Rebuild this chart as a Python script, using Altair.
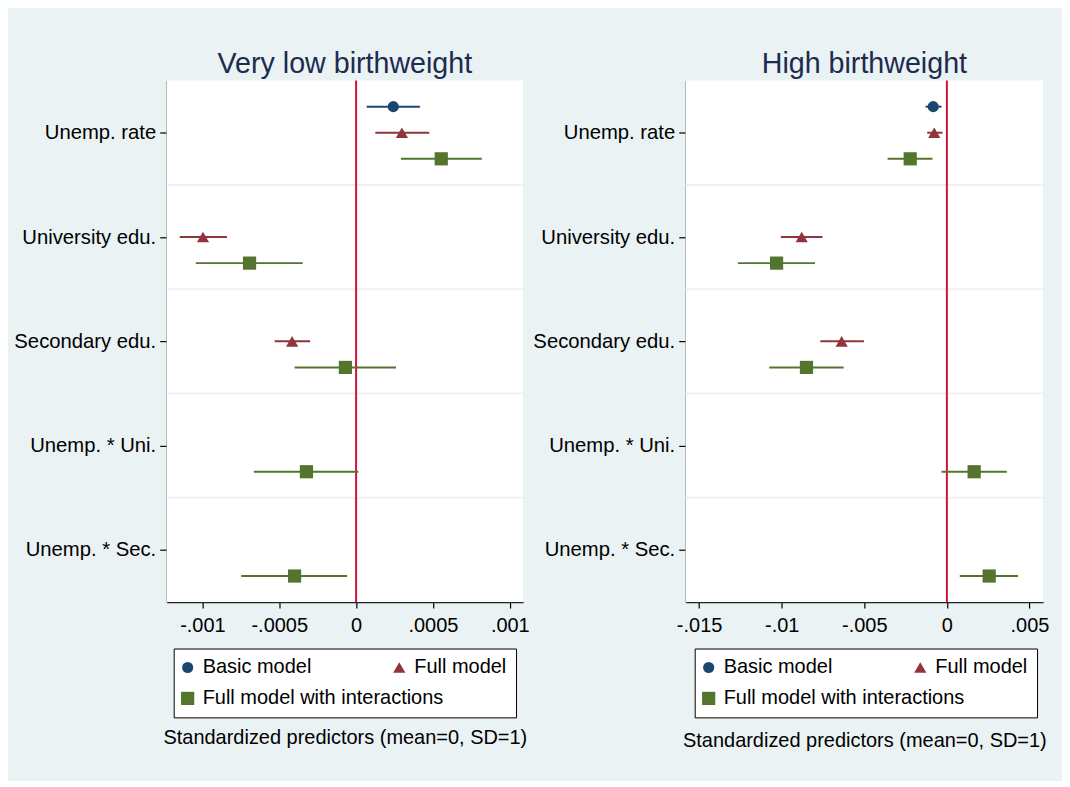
import altair as alt
import pandas as pd

FONT = "Liberation Sans"
BG = "#EAF2F3"

predictors = ["Unemp. rate", "University edu.", "Secondary edu.", "Unemp. * Uni.", "Unemp. * Sec."]
models = ["Basic model", "Full model", "Full model with interactions"]
model_offsets = [-0.25, 0.0, 0.25]
colors = ["#1a476f", "#90353b", "#55752f"]
shapes = ["circle", "triangle-up", "square"]
marker_sizes = [125, 175, 144]
separators = [1.5, 2.5, 3.5, 4.5]
row_span = [0.5, 5.5]

# ---- Very low birthweight ----
vl_basic_est = [0.000242, None, None, None, None]
vl_basic_lo = [0.000069, None, None, None, None]
vl_basic_hi = [0.000415, None, None, None, None]
vl_full_est = [0.000298, -0.000996, -0.000416, None, None]
vl_full_lo = [0.000125, -0.001147, -0.000530, None, None]
vl_full_hi = [0.000476, -0.000840, -0.000299, None, None]
vl_int_est = [0.000554, -0.000693, -0.0000695, -0.000323, -0.000400]
vl_int_lo = [0.000292, -0.001043, -0.000400, -0.000665, -0.000747]
vl_int_hi = [0.000818, -0.000347, 0.000260, 0.000015, -0.0000584]
vl_domain = [-0.001232, 0.001086]
vl_ticks = [-0.001, -0.0005, 0, 0.0005, 0.001]
vl_tick_labels = ["-.001", "-.0005", "0", ".0005", ".001"]

# ---- High birthweight ----
hb_basic_est = [-0.000828, None, None, None, None]
hb_basic_lo = [-0.00129, None, None, None, None]
hb_basic_hi = [-0.000326, None, None, None, None]
hb_full_est = [-0.000767, -0.00879, -0.00637, None, None]
hb_full_lo = [-0.00119, -0.01005, -0.00766, None, None]
hb_full_hi = [-0.000266, -0.00753, -0.00502, None, None]
hb_int_est = [-0.00222, -0.01031, -0.00850, 0.00165, 0.00256]
hb_int_lo = [-0.00359, -0.01265, -0.01075, -0.000326, 0.00078]
hb_int_hi = [-0.00087, -0.00798, -0.00625, 0.00363, 0.00431]
hb_domain = [-0.01581, 0.00582]
hb_ticks = [-0.015, -0.01, -0.005, 0, 0.005]
hb_tick_labels = ["-.015", "-.01", "-.005", "0", ".005"]

# ---- layout (pixels inside the 1056x773 canvas) ----
W, H = 1056, 773
PLOT_TOP, PLOT_BOTTOM = 72, 594.5


def build_frame(series):
    rows = []
    for m, off, (est, lo, hi) in zip(models, model_offsets, series):
        for i, p in enumerate(predictors):
            if est[i] is None:
                continue
            rows.append({"predictor": p, "model": m, "pos": i + 1 + off,
                         "est": est[i], "lo": lo[i], "hi": hi[i]})
    return pd.DataFrame(rows)


def label_expr(values, labels):
    expr = "''"
    for v, l in reversed(list(zip(values, labels))):
        expr = f"abs(datum.value - ({v})) < 1e-12 ? '{l}' : ({expr})"
    return expr


y_label_expr = label_expr(list(range(1, len(predictors) + 1)), predictors)


def panel(title, series, domain, ticks, tick_labels, x_range, legend_x, legend_y, title_pad):
    df = build_frame(series)
    xscale = alt.Scale(domain=domain, range=x_range, nice=False, zero=False)
    yscale = alt.Scale(domain=row_span, range=[PLOT_TOP, PLOT_BOTTOM], nice=False, zero=False)
    xaxis = alt.Axis(values=ticks, labelExpr=label_expr(ticks, tick_labels),
                     title="Standardized predictors (mean=0, SD=1)", orient="bottom",
                     offset=PLOT_BOTTOM - H, titlePadding=title_pad, grid=False,
                     tickSize=6, labelPadding=7, domainColor="#222222")
    yaxis = alt.Axis(values=list(range(1, len(predictors) + 1)), labelExpr=y_label_expr,
                     title=None, grid=False, orient="left", offset=-x_range[0],
                     tickSize=7, labelPadding=4, labelFontSize=20.3, domainColor="#555555")
    legend = alt.Legend(orient="none", legendX=legend_x, legendY=legend_y,
                        direction="horizontal", columns=2, gridAlign="none",
                        columnPadding=-52, rowPadding=11,
                        fillColor="white", strokeColor="black",
                        padding=9, labelFontSize=20, labelFont=FONT,
                        labelColor="black", title=None, labelOffset=5,
                        symbolOffset=-5, symbolSize=130, symbolStrokeWidth=0,
                        labelLimit=400)
    X = lambda f: alt.X(f, scale=xscale, axis=xaxis)
    Y = lambda f: alt.Y(f, scale=yscale, axis=yaxis)
    color = alt.Color("model:N", scale=alt.Scale(domain=models, range=colors), legend=legend)
    shape = alt.Shape("model:N", scale=alt.Scale(domain=models, range=shapes), legend=legend)
    size = alt.Size("model:N", scale=alt.Scale(domain=models, range=marker_sizes), legend=None)

    span_df = pd.DataFrame({"x0": [domain[0]], "x1": [domain[1]],
                            "y0": [row_span[0]], "y1": [row_span[1]], "z": [0],
                            "title": [title], "mid": [(domain[0] + domain[1]) / 2]})
    sep_df = pd.DataFrame({"b": separators, "x0": domain[0], "x1": domain[1]})

    area = alt.Chart(span_df).mark_rect(color="white").encode(
        x=X("x0:Q"), x2="x1:Q", y=Y("y0:Q"), y2="y1:Q")
    seps = alt.Chart(sep_df).mark_rule(color=BG, strokeWidth=2).encode(
        x=X("x0:Q"), x2="x1:Q", y=Y("b:Q"))
    zero = alt.Chart(span_df).mark_rule(color="#D2143A", strokeWidth=2).encode(
        x=X("z:Q"), y=Y("y0:Q"), y2="y1:Q")
    head = alt.Chart(span_df).mark_text(
        font=FONT, fontSize=28.7, color="#1c2b4e", baseline="alphabetic", align="center"
    ).encode(x=X("mid:Q"), y=alt.value(64), text="title:N")
    bars = alt.Chart(df).mark_rule(strokeWidth=2).encode(
        x=X("lo:Q"), x2="hi:Q", y=Y("pos:Q"), color=color)
    pts = alt.Chart(df).mark_point(filled=True, opacity=1, strokeWidth=0).encode(
        x=X("est:Q"), y=Y("pos:Q"), color=color, shape=shape, size=size)
    return alt.layer(area, seps, zero, head, bars, pts)


left = panel("Very low birthweight",
             [(vl_basic_est, vl_basic_lo, vl_basic_hi),
              (vl_full_est, vl_full_lo, vl_full_hi),
              (vl_int_est, vl_int_lo, vl_int_hi)],
             vl_domain, vl_ticks, vl_tick_labels, [159, 516], 166, 641, 93)
right = panel("High birthweight",
              [(hb_basic_est, hb_basic_lo, hb_basic_hi),
               (hb_full_est, hb_full_lo, hb_full_hi),
               (hb_int_est, hb_int_lo, hb_int_hi)],
              hb_domain, hb_ticks, hb_tick_labels, [679, 1037], 688, 641, 96)

chart = alt.layer(left, right).resolve_scale(
    x="independent", y="independent", color="independent", shape="independent",
    size="independent"
).resolve_axis(x="independent", y="independent").resolve_legend(
    color="independent", shape="independent", size="independent"
).properties(
    width=W, height=H, background=BG, padding=0,
    autosize=alt.AutoSizeParams(type="none"),
).configure_view(stroke=None, fill=None).configure_axis(
    labelFont=FONT, labelFontSize=20, labelColor="black",
    titleFont=FONT, titleFontSize=20, titleFontWeight="normal", titleColor="black",
    domainWidth=1.5, tickColor="black", tickWidth=1.2,
)

chart.save("out.html", embed_options={"renderer": "svg", "actions": False})
